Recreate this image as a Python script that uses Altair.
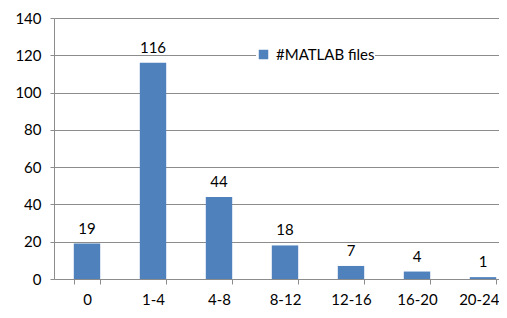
import altair as alt
import pandas as pd

categories = ["0", "1-4", "4-8", "8-12", "12-16", "16-20", "20-24"]
values = [19, 116, 44, 18, 7, 4, 1]
series_name = "#MATLAB files"

df = pd.DataFrame({"cat": categories, "val": values, "series": [series_name] * len(categories)})

FONT = "Lato"
FS = 15
GRID = "#8c8c8c"

xscale = alt.Scale(range=[0, 462], paddingInner=0.6, paddingOuter=0.3)
yscale = alt.Scale(domain=[0, 140], nice=False)

last = "datum.value === '20-24'"
x = alt.X("cat:N", sort=categories, title=None, scale=xscale,
          axis=alt.Axis(labelAngle=0, tickBand="extent", domainColor=GRID, tickColor=GRID,
                        tickSize=5, labelPadding=8, labelFontSize=FS, labelFont=FONT,
                        labelColor="#000000", grid=False, labelOverlap=False, labelBound=False,
                        labelAlign={"condition": {"test": last, "value": "right"}, "value": "center"},
                        labelOffset={"condition": {"test": last, "value": 16}, "value": 0}))
y = alt.Y("val:Q", title=None, scale=yscale,
          axis=alt.Axis(values=[0, 20, 40, 60, 80, 100, 120, 140], tickCount=20,
                        gridColor=GRID, grid=True,
                        domainColor=GRID, tickColor=GRID, tickSize=4, labelPadding=9,
                        labelFontSize=FS, labelFont=FONT, labelColor="#000000",
                        labelOverlap=False))

bars = alt.Chart(df).mark_bar(clip=False).encode(
    x=x, y=y,
    color=alt.Color("series:N", title=None,
                    scale=alt.Scale(domain=[series_name], range=["#4F81BD"]),
                    legend=alt.Legend(orient="none", legendX=202, legendY=29,
                                      symbolType="square", symbolSize=90, symbolStrokeWidth=0,
                                      labelFontSize=FS, labelFont=FONT, labelColor="#000000",
                                      fillColor="white", padding=0, labelOffset=5)),
)

labels = alt.Chart(df).mark_text(dy=-10, fontSize=FS, font=FONT, color="#000000",
                                 baseline="alphabetic").encode(
    x=x, y=y, text="val:Q",
)

chart = (bars + labels).properties(
    width=445, height=261,
    autosize=alt.AutoSizeParams(type="none"),
    padding={"left": 46, "top": 10, "right": 0, "bottom": 30},
).configure_view(stroke=None)

chart.save("out.html", embed_options={"renderer": "svg", "actions": False})
